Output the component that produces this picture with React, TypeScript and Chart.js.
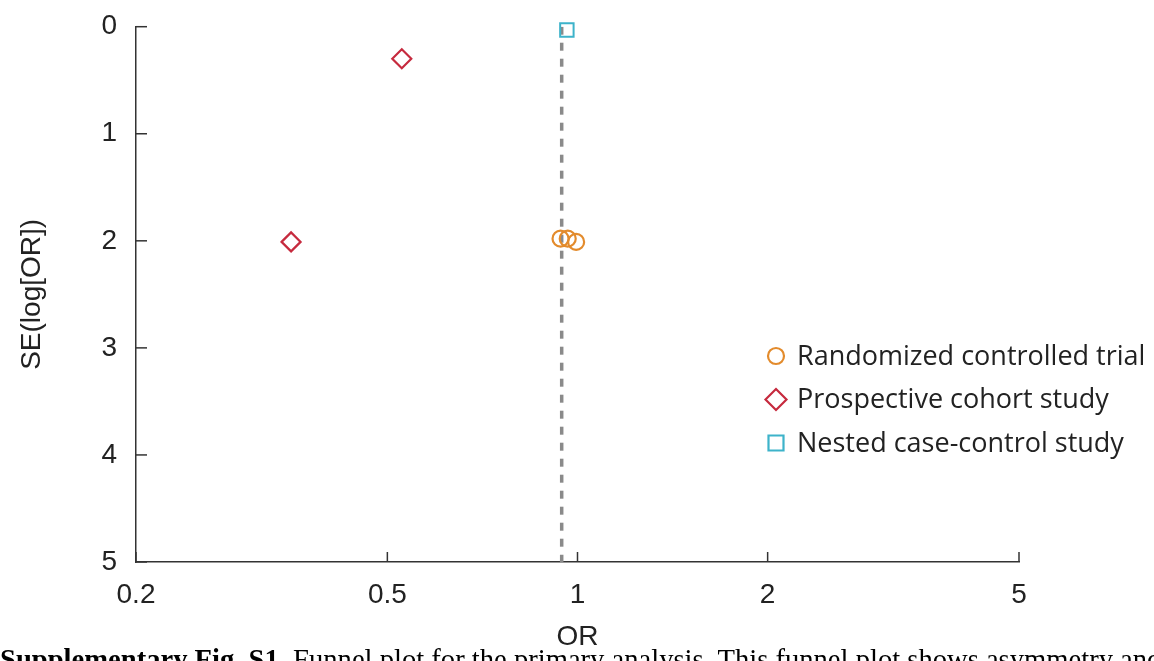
import React, { useEffect, useRef } from "react";
import { Chart, registerables } from "chart.js";

Chart.register(...registerables);

// ---- data ----
const SERIES_LABELS = ["Randomized controlled trial", "Prospective cohort study", "Nested case-control study"];
const RCT_OR = [0.94, 0.965, 0.995];
const RCT_SE = [1.98, 1.98, 2.01];
const PCS_OR = [0.527, 0.352];
const PCS_SE = [0.3, 2.01];
const NCC_OR = [0.962];
const NCC_SE = [0.03];
const POOLED_OR = 0.944;
const SE_RANGE = [0, 5];
const X_TICKS = [0.2, 0.5, 1, 2, 5];
const Y_TICKS = [0, 1, 2, 3, 4, 5];
const X_TITLE = "OR";
const Y_TITLE = "SE(log[OR])";
const CAPTION_BOLD = "Supplementary Fig. S1.";
const CAPTION_TEXT = " Funnel plot for the primary analysis. This funnel plot shows asymmetry and";

const COLORS = ["#E38B2C", "#C62A3E", "#3DB3CA"];
const STYLES = ["circle", "rectRot", "rect"];
const RADII = [8, 9.5, 9.5];
const AXIS_COLOR = "#333333";
const TEXT_COLOR = "#222222";

const toPoints = (xs: number[], ys: number[]) => xs.map((x, i) => ({ x, y: ys[i] }));

const tickMarks = {
  id: "tickMarks",
  afterDraw(chart: any) {
    const { ctx } = chart;
    const xs = chart.scales.x;
    const ys = chart.scales.y;
    ctx.save();
    ctx.strokeStyle = AXIS_COLOR;
    ctx.lineWidth = 1.5;
    Y_TICKS.forEach((v) => {
      const y = ys.getPixelForValue(v);
      ctx.beginPath();
      ctx.moveTo(xs.left, y);
      ctx.lineTo(xs.left + 11, y);
      ctx.stroke();
    });
    X_TICKS.forEach((v) => {
      const x = xs.getPixelForValue(v);
      ctx.beginPath();
      ctx.moveTo(x, ys.bottom);
      ctx.lineTo(x, ys.bottom - 10);
      ctx.stroke();
    });
    ctx.restore();
  },
};

const customLegend = {
  id: "customLegend",
  afterDraw(chart: any) {
    const { ctx } = chart;
    const mx = 776;
    const tx = 797;
    const rows = [356, 399.5, 443];
    ctx.save();
    chart.data.datasets.forEach((ds: any, i: number) => {
      if (ds.type === "line") return;
      const y = rows[i];
      ctx.strokeStyle = ds.borderColor;
      ctx.lineWidth = 2.2;
      ctx.beginPath();
      if (ds.pointStyle === "circle") {
        ctx.arc(mx, y, 8, 0, Math.PI * 2);
      } else if (ds.pointStyle === "rectRot") {
        const r = 10.5;
        ctx.moveTo(mx - r, y);
        ctx.lineTo(mx, y - r);
        ctx.lineTo(mx + r, y);
        ctx.lineTo(mx, y + r);
        ctx.closePath();
      } else {
        const h = 7.5;
        ctx.rect(mx - h, y - h, 2 * h, 2 * h);
      }
      ctx.stroke();
      ctx.fillStyle = TEXT_COLOR;
      ctx.font = "27px 'Open Sans'";
      ctx.textBaseline = "middle";
      ctx.textAlign = "left";
      ctx.fillText(ds.label, tx, y + 1);
    });
    ctx.restore();
  },
};

export default function App() {
  const ref = useRef<HTMLCanvasElement | null>(null);

  useEffect(() => {
    if (!ref.current) return;
    const tickFont = { family: "'Liberation Sans', Arial, sans-serif", size: 28 };
    const chart = new Chart(ref.current, {
      type: "scatter",
      data: {
        datasets: [
          {
            label: SERIES_LABELS[0],
            data: toPoints(RCT_OR, RCT_SE),
            pointStyle: STYLES[0],
            pointRadius: RADII[0],
            borderColor: COLORS[0],
            backgroundColor: "rgba(0,0,0,0)",
            pointBorderWidth: 2.2,
            clip: false,
            order: 1,
          },
          {
            label: SERIES_LABELS[1],
            data: toPoints(PCS_OR, PCS_SE),
            pointStyle: STYLES[1],
            pointRadius: RADII[1],
            borderColor: COLORS[1],
            backgroundColor: "rgba(0,0,0,0)",
            pointBorderWidth: 2.2,
            clip: false,
            order: 1,
          },
          {
            label: SERIES_LABELS[2],
            data: toPoints(NCC_OR, NCC_SE),
            pointStyle: STYLES[2],
            pointRadius: RADII[2],
            borderColor: COLORS[2],
            backgroundColor: "rgba(0,0,0,0)",
            pointBorderWidth: 2,
            clip: false,
            order: 1,
          },
          {
            type: "line",
            label: "Pooled",
            data: SE_RANGE.map((y) => ({ x: POOLED_OR, y })),
            borderColor: "#8a8a8a",
            borderWidth: 3.5,
            borderDash: [8, 8],
            pointRadius: 0,
            order: 10,
          } as any,
        ],
      },
      options: {
        animation: false,
        responsive: true,
        maintainAspectRatio: false,
        layout: { padding: { left: 0, right: 135, top: 26.7, bottom: 0 } },
        plugins: { legend: { display: false }, tooltip: { enabled: false } },
        scales: {
          x: {
            type: "logarithmic",
            position: "bottom",
            min: X_TICKS[0],
            max: X_TICKS[X_TICKS.length - 1],
            afterBuildTicks: (s: any) => {
              s.ticks = X_TICKS.map((v) => ({ value: v }));
            },
            afterFit: (s: any) => {
              s.height = 99;
              s.paddingLeft = 0;
              s.paddingRight = 0;
            },
            ticks: {
              autoSkip: false,
              maxRotation: 0,
              padding: 16,
              color: TEXT_COLOR,
              font: tickFont,
              callback: (v: any) => String(v),
            },
            grid: { display: false, drawTicks: false },
            border: { display: true, color: AXIS_COLOR, width: 1.5 },
            title: {
              display: true,
              text: X_TITLE,
              color: TEXT_COLOR,
              font: tickFont,
              padding: { top: 0, bottom: 7 },
            },
          },
          y: {
            type: "linear",
            reverse: true,
            min: SE_RANGE[0],
            max: SE_RANGE[1],
            afterBuildTicks: (s: any) => {
              s.ticks = Y_TICKS.map((v) => ({ value: v }));
            },
            afterFit: (s: any) => {
              s.width = 136;
              s.paddingTop = 0;
              s.paddingBottom = 0;
            },
            ticks: {
              padding: 19,
              color: TEXT_COLOR,
              font: tickFont,
              callback: (v: any) => String(v),
            },
            grid: { display: false, drawTicks: false },
            border: { display: true, color: AXIS_COLOR, width: 1.5 },
            title: {
              display: true,
              text: Y_TITLE,
              color: TEXT_COLOR,
              font: tickFont,
              padding: { top: 15, bottom: 0 },
            },
          },
        },
      },
      plugins: [tickMarks, customLegend],
    } as any);
    return () => chart.destroy();
  }, []);

  return (
    <div
      style={{
        position: "fixed",
        left: 0,
        top: 0,
        width: 1154,
        height: 661,
        overflow: "hidden",
        background: "#ffffff",
      }}
    >
      <canvas ref={ref} width={1154} height={661} />
      <div
        style={{
          position: "absolute",
          left: 0,
          top: 644,
          whiteSpace: "nowrap",
          fontFamily: "'Liberation Serif', 'Times New Roman', serif",
          fontSize: 28.6,
          lineHeight: "32px",
          color: "#000",
        }}
      >
        <b>{CAPTION_BOLD}</b>
        {CAPTION_TEXT}
      </div>
    </div>
  );
}
